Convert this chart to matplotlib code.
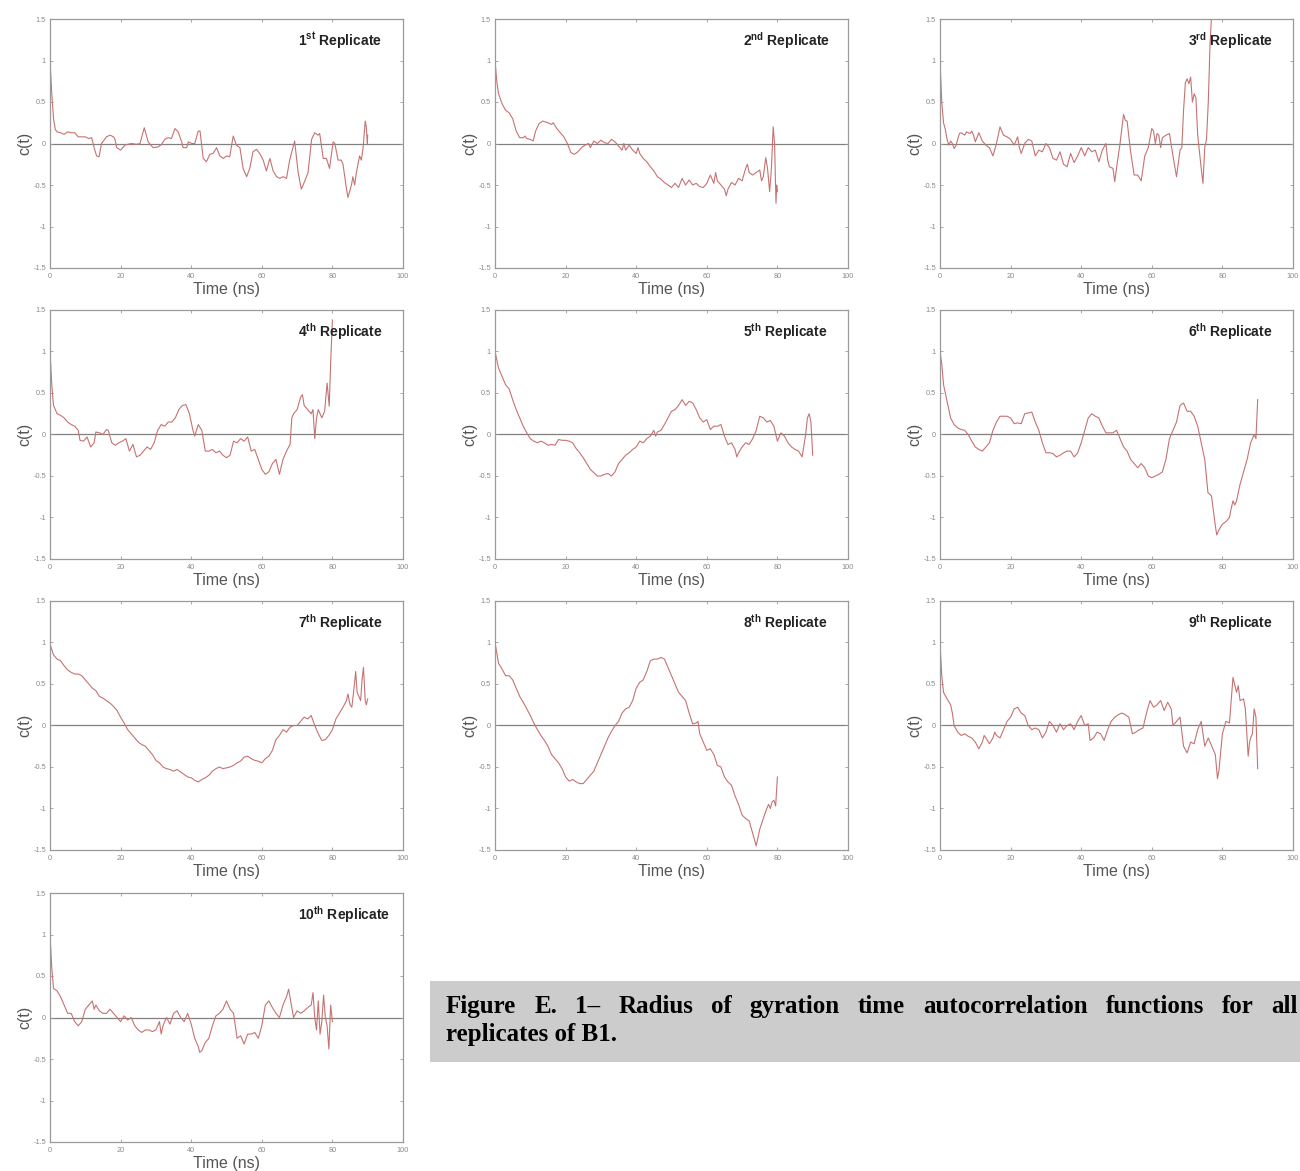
import matplotlib
matplotlib.use("Agg")
import matplotlib.pyplot as plt
from matplotlib.patches import Rectangle

plt.rcParams['font.family'] = ['Liberation Sans', 'DejaVu Sans']
plt.rcParams['axes.unicode_minus'] = False
plt.rcParams['mathtext.fontset'] = 'custom'
plt.rcParams['mathtext.rm'] = 'Liberation Sans'
plt.rcParams['mathtext.bf'] = 'Liberation Sans:bold'

# Radius-of-gyration autocorrelation c(t) per replicate: (time in ns, c(t))
rep1 = [(0, 1.0), (0.5, 0.6), (1, 0.3), (1.5, 0.17), (2, 0.14), (3, 0.13), (4, 0.11), (5, 0.14),
        (6, 0.13), (7, 0.13), (8, 0.08), (9, 0.08), (10, 0.08), (11, 0.06), (11.8, 0.07), (12.5, -0.05),
        (13.2, -0.15), (13.9, -0.16), (14.6, 0.0), (15.3, 0.04), (16, 0.08), (17, 0.1), (18, 0.08),
        (18.4, 0.05), (18.9, -0.05), (20, -0.08), (21.2, -0.02), (22, -0.01), (23.1, 0.0), (24.5, -0.01),
        (25.5, 0.0), (26.7, 0.19), (27.8, 0.02), (29.2, -0.05), (30.7, -0.04), (31.6, -0.01), (32.5, 0.05),
        (33.5, 0.07), (34.4, 0.06), (35.4, 0.18), (36.3, 0.14), (37.3, 0.02), (37.7, -0.05), (38.7, -0.05),
        (39.2, 0.02), (40.1, 0.0), (41, 0.0), (42, 0.15), (42.5, 0.15), (43.4, -0.18), (44.3, -0.22),
        (45.3, -0.13), (46.2, -0.12), (47.2, -0.05), (48.1, -0.15), (49.1, -0.18), (50, -0.15),
        (50.9, -0.16), (51.9, 0.09), (52.8, -0.02), (53.8, -0.05), (54.7, -0.3), (55.7, -0.4),
        (56.6, -0.3), (57.5, -0.1), (58.5, -0.07), (59.4, -0.12), (60.4, -0.2), (61.3, -0.33),
        (62.3, -0.18), (63.2, -0.33), (64.2, -0.4), (65.1, -0.42), (66, -0.4), (67, -0.42), (67.9, -0.2),
        (69.3, 0.03), (70.3, -0.35), (71.2, -0.55), (72.2, -0.45), (73.1, -0.35), (74.1, 0.05), (75, 0.13),
        (75.9, 0.1), (76.4, 0.12), (77.4, -0.18), (78.3, -0.18), (79.2, -0.3), (80.2, 0.02), (80.7, 0.0),
        (81.6, -0.2), (82.5, -0.2), (83, -0.25), (84, -0.55), (84.4, -0.65), (85.4, -0.5), (85.8, -0.4),
        (86.3, -0.5), (86.8, -0.35), (87.7, -0.15), (88.2, -0.2), (88.7, -0.05), (89.3, 0.27), (89.6, 0.2),
        (89.9, 0.0), (90, 0.1)]

rep2 = [(0, 1.0), (0.5, 0.75), (1, 0.6), (2, 0.48), (3, 0.4), (4, 0.37), (5, 0.3), (6, 0.15), (7, 0.07),
        (8, 0.07), (8.5, 0.09), (9, 0.06), (10, 0.05), (10.8, 0.03), (11.5, 0.15), (12.5, 0.24), (13.5, 0.27),
        (15, 0.25), (16, 0.23), (16.5, 0.25), (17.5, 0.18), (18.5, 0.13), (19.5, 0.08), (20.5, 0.0),
        (21.5, -0.11), (22.5, -0.13), (23.5, -0.1), (24.5, -0.05), (25.5, -0.02), (26.5, 0.0), (27, -0.05),
        (28, 0.03), (29, 0.0), (30, 0.04), (31, 0.01), (32, 0.0), (33, 0.05), (34, 0.02), (35, -0.03),
        (36, -0.08), (36.5, 0.0), (37, -0.08), (38, -0.02), (39, -0.08), (40, -0.12), (40.5, -0.05),
        (41, -0.12), (42, -0.18), (43, -0.22), (44, -0.28), (45, -0.33), (46, -0.4), (47, -0.43),
        (48, -0.47), (49, -0.5), (50, -0.53), (51, -0.48), (52, -0.53), (53, -0.42), (54, -0.5),
        (55, -0.44), (56, -0.5), (57, -0.48), (58, -0.52), (59, -0.53), (60, -0.48), (61, -0.38),
        (62, -0.48), (62.5, -0.35), (63, -0.45), (64, -0.5), (65, -0.55), (65.5, -0.63), (66, -0.55),
        (67, -0.47), (68, -0.5), (69, -0.42), (70, -0.45), (71, -0.3), (71.5, -0.25), (72, -0.35),
        (73, -0.38), (74, -0.35), (75, -0.32), (75.5, -0.45), (76, -0.4), (76.7, -0.17), (77.2, -0.3),
        (77.8, -0.58), (78.3, -0.3), (78.8, 0.2), (79.2, 0.0), (79.6, -0.72), (79.8, -0.5), (80, -0.58)]

rep3 = [(0, 1.0), (0.5, 0.5), (1, 0.25), (1.5, 0.17), (2, 0.05), (2.5, -0.02), (3, 0.03), (3.5, 0.0),
        (4, -0.06), (4.5, -0.03), (5, 0.05), (5.5, 0.12), (6, 0.13), (7, 0.1), (7.5, 0.14), (8.5, 0.12),
        (9, 0.15), (9.5, 0.1), (10, 0.02), (11, 0.13), (12, 0.03), (13, -0.02), (14, -0.05), (15, -0.15),
        (16, 0.0), (17, 0.2), (18, 0.1), (19, 0.08), (20, 0.05), (21, -0.02), (22, 0.08), (22.5, -0.05),
        (23, -0.12), (24, 0.0), (25, 0.05), (26, 0.03), (27, -0.15), (28, -0.08), (29, -0.1), (30, 0.0),
        (31, -0.05), (32, -0.18), (33, -0.2), (34, -0.1), (35, -0.25), (36, -0.28), (37, -0.12),
        (38, -0.23), (39, -0.15), (40, -0.05), (41, -0.15), (42, -0.05), (43, -0.1), (44, -0.08),
        (45, -0.22), (46, -0.08), (47, 0.0), (47.5, -0.2), (48, -0.28), (49, -0.3), (49.5, -0.46),
        (50, -0.3), (51, 0.0), (52, 0.35), (52.5, 0.28), (53, 0.27), (54, -0.1), (55, -0.38), (56, -0.38),
        (57, -0.45), (58, -0.15), (59, -0.05), (60, 0.18), (60.5, 0.15), (61, 0.0), (61.5, 0.12),
        (62, 0.1), (62.5, -0.05), (63, 0.07), (64, 0.1), (65, 0.12), (66, -0.15), (67, -0.4), (68, -0.08),
        (68.5, -0.05), (69, 0.4), (69.5, 0.73), (70, 0.78), (70.5, 0.72), (71, 0.8), (71.5, 0.5),
        (72, 0.6), (72.5, 0.55), (73, 0.1), (74, -0.3), (74.5, -0.48), (75, -0.05), (75.5, 0.05),
        (76, 0.5), (76.5, 1.2), (77, 1.6)]

rep4 = [(0, 1.0), (0.5, 0.6), (1, 0.35), (2, 0.25), (3, 0.23), (4, 0.2), (5, 0.15), (6, 0.12), (7, 0.1),
        (8, 0.05), (8.5, -0.07), (9.5, -0.08), (10.5, -0.03), (11.5, -0.15), (12.5, -0.1), (13, 0.03),
        (14, 0.02), (15, 0.0), (16, 0.06), (16.5, 0.05), (17.5, -0.1), (18.5, -0.13), (19.5, -0.1),
        (20.5, -0.08), (21.5, -0.05), (22.5, -0.2), (23.5, -0.12), (24.5, -0.27), (25.5, -0.25),
        (26.5, -0.2), (27.5, -0.15), (28.5, -0.18), (29.5, -0.1), (30.5, 0.05), (31.5, 0.12), (32.5, 0.1),
        (33.5, 0.15), (34.5, 0.15), (35.5, 0.2), (36.5, 0.3), (37.5, 0.35), (38.5, 0.36), (39.5, 0.25),
        (40.5, 0.05), (41, -0.02), (42, 0.12), (43, 0.05), (44, -0.2), (45, -0.2), (46, -0.18),
        (47, -0.22), (48, -0.2), (49, -0.25), (50, -0.28), (51, -0.25), (52, -0.08), (53, -0.1),
        (54, -0.05), (55, -0.08), (56, -0.03), (57, -0.2), (58, -0.18), (59, -0.3), (60, -0.42),
        (61, -0.48), (62, -0.45), (63, -0.35), (64, -0.3), (65, -0.48), (66, -0.3), (67, -0.2),
        (68, -0.12), (68.5, 0.2), (69, 0.25), (70, 0.3), (71, 0.45), (71.5, 0.48), (72, 0.35), (73, 0.3),
        (74, 0.25), (74.5, 0.3), (75, -0.05), (75.5, 0.2), (76, 0.3), (77, 0.2), (77.8, 0.28),
        (78.5, 0.62), (79.1, 0.34), (79.5, 0.86), (80, 1.38)]

rep5 = [(0, 1.0), (1, 0.8), (2, 0.7), (3, 0.6), (4, 0.55), (5, 0.42), (6, 0.3), (7, 0.2), (8, 0.1),
        (9, 0.02), (10, -0.05), (11, -0.08), (12, -0.1), (13, -0.08), (14, -0.1), (15, -0.13),
        (16, -0.12), (17, -0.13), (18, -0.06), (19, -0.07), (20, -0.07), (21, -0.08), (22, -0.1),
        (23, -0.17), (24, -0.22), (25, -0.28), (26, -0.35), (27, -0.42), (28, -0.46), (29, -0.5),
        (30, -0.5), (31, -0.48), (32, -0.47), (33, -0.5), (34, -0.45), (35, -0.35), (36, -0.3),
        (37, -0.25), (38, -0.22), (39, -0.18), (40, -0.15), (41, -0.08), (42, -0.1), (43, -0.05),
        (44, -0.02), (45, 0.05), (45.5, -0.02), (46, 0.03), (47, 0.05), (48, 0.12), (49, 0.2),
        (50, 0.28), (51, 0.3), (52, 0.35), (53, 0.42), (54, 0.35), (55, 0.4), (56, 0.38), (57, 0.3),
        (58, 0.2), (59, 0.15), (60, 0.18), (61, 0.06), (62, 0.1), (63, 0.1), (64, 0.12), (65, -0.02),
        (66, -0.12), (67, -0.1), (68, -0.18), (68.5, -0.27), (69, -0.22), (70, -0.15), (71, -0.1),
        (72, -0.12), (73, -0.05), (74, 0.05), (75, 0.22), (76, 0.2), (77, 0.15), (78, 0.17), (79, 0.1),
        (80, -0.08), (81, 0.02), (82, -0.02), (83, -0.1), (84, -0.15), (85, -0.18), (86, -0.2),
        (87, -0.27), (88, 0.0), (88.5, 0.2), (89, 0.25), (89.5, 0.15), (90, -0.25)]

rep6 = [(0, 1.0), (0.5, 0.85), (1, 0.6), (2, 0.4), (3, 0.2), (4, 0.12), (5, 0.08), (6, 0.06), (7, 0.05),
        (8, 0.0), (9, -0.08), (10, -0.15), (11, -0.18), (12, -0.2), (13, -0.15), (14, -0.1), (15, 0.05),
        (16, 0.15), (17, 0.22), (18, 0.22), (19, 0.22), (20, 0.2), (21, 0.13), (22, 0.14), (23, 0.13),
        (24, 0.25), (25, 0.26), (26, 0.27), (27, 0.15), (28, 0.05), (29, -0.1), (30, -0.22), (31, -0.22),
        (32, -0.23), (33, -0.27), (34, -0.25), (35, -0.22), (36, -0.2), (37, -0.2), (38, -0.27),
        (39, -0.22), (40, -0.1), (41, 0.05), (42, 0.2), (43, 0.25), (44, 0.22), (45, 0.2), (46, 0.1),
        (47, 0.02), (48, 0.02), (49, 0.02), (50, 0.05), (51, -0.05), (52, -0.15), (53, -0.2), (54, -0.3),
        (55, -0.35), (56, -0.4), (57, -0.35), (58, -0.4), (59, -0.5), (60, -0.52), (61, -0.5),
        (62, -0.48), (63, -0.45), (64, -0.3), (65, -0.05), (66, 0.05), (67, 0.15), (68, 0.35),
        (69, 0.38), (70, 0.28), (71, 0.28), (72, 0.22), (73, 0.1), (74, -0.1), (75, -0.3), (75.9, -0.7),
        (76.9, -0.74), (78, -1.1), (78.4, -1.21), (79, -1.15), (80, -1.08), (81, -1.05), (82, -1.0),
        (82.5, -0.89), (83, -0.8), (83.5, -0.85), (84, -0.8), (85, -0.6), (86, -0.45), (87, -0.3),
        (88, -0.1), (88.5, -0.05), (89, 0.0), (89.5, -0.05), (90, 0.42)]

rep7 = [(0, 0.98), (1, 0.85), (2, 0.8), (3, 0.78), (4, 0.72), (5, 0.67), (6, 0.64), (7, 0.62), (8, 0.62),
        (9, 0.6), (10, 0.55), (11, 0.5), (12, 0.45), (13, 0.42), (14, 0.35), (15, 0.33), (16, 0.3),
        (17, 0.27), (18, 0.23), (19, 0.18), (20, 0.1), (21, 0.03), (22, -0.05), (23, -0.1), (24, -0.15),
        (25, -0.2), (26, -0.23), (27, -0.25), (28, -0.3), (29, -0.35), (30, -0.42), (31, -0.45),
        (32, -0.5), (33, -0.52), (34, -0.53), (35, -0.55), (36, -0.53), (37, -0.56), (38, -0.59),
        (39, -0.62), (40, -0.63), (41, -0.66), (42, -0.68), (43, -0.65), (44, -0.63), (45, -0.6),
        (46, -0.55), (47, -0.52), (48, -0.5), (49, -0.52), (50, -0.51), (51, -0.5), (52, -0.48),
        (53, -0.45), (54, -0.43), (55, -0.38), (56, -0.37), (57, -0.4), (58, -0.42), (59, -0.43),
        (60, -0.45), (61, -0.4), (62, -0.37), (63, -0.3), (64, -0.17), (65, -0.12), (66, -0.05),
        (67, -0.08), (68, -0.02), (69, 0.0), (70, 0.0), (71, 0.05), (72, 0.1), (73, 0.08), (74, 0.12),
        (75, 0.0), (76, -0.1), (77, -0.18), (78, -0.17), (79, -0.12), (80, -0.05), (81, 0.08), (82, 0.15),
        (83, 0.22), (84, 0.3), (84.4, 0.38), (85, 0.25), (85.5, 0.22), (86, 0.4), (86.6, 0.65), (87, 0.4),
        (88, 0.3), (88.4, 0.55), (88.8, 0.7), (89.3, 0.3), (89.6, 0.25), (90, 0.32)]

rep8 = [(0, 1.0), (1, 0.75), (2, 0.68), (3, 0.6), (4, 0.6), (5, 0.55), (6, 0.45), (7, 0.35), (8, 0.28),
        (9, 0.2), (10, 0.12), (11, 0.03), (12, -0.05), (13, -0.12), (14, -0.18), (15, -0.25), (16, -0.35),
        (17, -0.4), (18, -0.45), (19, -0.52), (20, -0.62), (21, -0.67), (22, -0.65), (23, -0.68),
        (24, -0.7), (25, -0.7), (26, -0.65), (27, -0.6), (28, -0.55), (29, -0.45), (30, -0.35),
        (31, -0.25), (32, -0.15), (33, -0.07), (34, 0.0), (35, 0.05), (36, 0.15), (37, 0.2), (38, 0.22),
        (39, 0.3), (40, 0.45), (41, 0.52), (42, 0.55), (43, 0.65), (44, 0.78), (45, 0.8), (46, 0.8),
        (47, 0.82), (48, 0.8), (49, 0.7), (50, 0.6), (51, 0.5), (52, 0.4), (53, 0.35), (54, 0.3),
        (55, 0.15), (56, 0.02), (57, 0.03), (57.5, 0.05), (58, -0.1), (59, -0.2), (60, -0.3), (61, -0.28),
        (62, -0.35), (63, -0.48), (64, -0.5), (65, -0.62), (66, -0.68), (67, -0.72), (68, -0.85),
        (69, -0.95), (70, -1.08), (71, -1.12), (72, -1.15), (73, -1.3), (74, -1.45), (75, -1.25),
        (76, -1.12), (77, -1.0), (77.5, -0.95), (78, -1.0), (78.5, -0.92), (79, -0.9), (79.5, -0.97),
        (80, -0.62)]

rep9 = [(0, 1.0), (0.5, 0.6), (1, 0.4), (2, 0.32), (3, 0.25), (3.5, 0.15), (4, 0.0), (5, -0.08),
        (6, -0.12), (7, -0.1), (8, -0.13), (9, -0.15), (10, -0.2), (11, -0.28), (12, -0.2), (12.5, -0.12),
        (13, -0.15), (14, -0.22), (15, -0.15), (15.5, -0.08), (16, -0.12), (17, -0.15), (18, -0.05),
        (19, 0.05), (20, 0.1), (21, 0.2), (22, 0.22), (23, 0.15), (24, 0.12), (25, 0.0), (26, -0.05),
        (27, -0.03), (28, -0.05), (29, -0.15), (30, -0.08), (31, 0.05), (32, 0.0), (33, -0.08),
        (34, 0.02), (35, -0.05), (36, 0.0), (37, 0.02), (38, -0.05), (39, 0.05), (40, 0.12), (41, 0.0),
        (42, 0.02), (42.5, -0.18), (43.5, -0.15), (44.5, -0.08), (45.5, -0.1), (46.5, -0.18),
        (47.5, -0.05), (48.5, 0.05), (49.5, 0.1), (50.5, 0.13), (51.5, 0.15), (52.5, 0.13), (53.5, 0.1),
        (54.5, -0.1), (55.5, -0.08), (56.5, -0.05), (57.5, -0.03), (58.5, 0.15), (59.5, 0.3), (60.5, 0.22),
        (61.5, 0.25), (62.5, 0.3), (63.5, 0.18), (64.5, 0.28), (65.5, 0.2), (66, 0.0), (67, 0.05),
        (68, 0.1), (69, -0.25), (70, -0.33), (71, -0.2), (72, -0.22), (73, -0.05), (74, 0.05),
        (75, -0.25), (76, -0.15), (77, -0.25), (78, -0.35), (78.6, -0.64), (79, -0.55), (80, -0.1),
        (81, 0.05), (82, 0.03), (83, 0.58), (84, 0.4), (84.5, 0.48), (85, 0.3), (86, 0.32), (86.5, 0.2),
        (87.3, -0.37), (87.7, -0.2), (88, -0.15), (88.5, -0.1), (89, 0.2), (89.5, 0.1), (90, -0.52)]

rep10 = [(0, 1.0), (0.5, 0.6), (1, 0.35), (2, 0.32), (3, 0.25), (4, 0.15), (5, 0.05), (6, 0.05),
         (7, -0.05), (8, -0.1), (9, -0.05), (10, 0.1), (11, 0.15), (12, 0.2), (12.5, 0.1), (13, 0.15),
         (14, 0.08), (15, 0.05), (16, 0.05), (17, 0.1), (18, 0.05), (19, 0.0), (20, -0.05), (21, 0.02),
         (22, -0.03), (23, 0.0), (24, -0.1), (25, -0.15), (26, -0.18), (27, -0.15), (28, -0.15),
         (29, -0.17), (30, -0.15), (31, -0.05), (31.5, -0.2), (32, -0.1), (33, 0.0), (34, -0.08),
         (35, 0.05), (36, 0.08), (37, 0.0), (38, -0.05), (39, 0.05), (40, -0.08), (41, -0.25), (42, -0.35),
         (42.4, -0.42), (43, -0.4), (44, -0.3), (45, -0.25), (46, -0.1), (47, 0.02), (48, 0.05), (49, 0.1),
         (50, 0.2), (51, 0.1), (52, 0.05), (53, -0.25), (54, -0.22), (55, -0.32), (56, -0.2), (57, -0.2),
         (58, -0.18), (59, -0.25), (60, -0.1), (61, 0.15), (62, 0.2), (63, 0.12), (64, 0.05), (65, 0.0),
         (66, 0.15), (67, 0.25), (67.6, 0.34), (69, 0.0), (70, 0.08), (71, 0.05), (72, 0.08), (73, 0.12),
         (74, 0.15), (74.5, 0.3), (75, 0.0), (75.5, -0.15), (76, 0.2), (76.5, -0.2), (77, -0.05),
         (77.5, 0.27), (78, 0.0), (78.5, -0.1), (79, -0.38), (79.5, 0.15), (80, -0.05)]

series = [rep1, rep2, rep3, rep4, rep5, rep6, rep7, rep8, rep9, rep10]
ordinals = ["st", "nd", "rd", "th", "th", "th", "th", "th", "th", "th"]
x_ticks = [0, 20, 40, 60, 80, 100]
y_ticks = [-1.5, -1, -0.5, 0, 0.5, 1, 1.5]
y_ticklabels = ["-1.5", "-1", "-0.5", "0", "0.5", "1", "1.5"]

caption_line1 = "Figure E. 1\u2013 Radius of gyration time autocorrelation functions for all"
caption_line2 = "replicates of B1."

W, H = 1300, 1171
fig = plt.figure(figsize=(W / 100, H / 100), dpi=100)
fig.patch.set_facecolor("white")

col_left = [50, 495, 940]
row_top = [19, 310, 601, 893]
ax_w, ax_h = 353, 249

line_color = "#c77272"
spine_color = "#9a9a9a"
tick_color = "#8a8a8a"
label_color = "#555555"

for i, data in enumerate(series):
    r, c = divmod(i, 3)
    left = col_left[c] / W
    bottom = 1 - (row_top[r] + ax_h) / H
    ax = fig.add_axes([left, bottom, ax_w / W, ax_h / H])
    t_vals = [p[0] for p in data]
    c_vals = [p[1] for p in data]
    ax.axhline(0, color="#808080", lw=0.9, zorder=1)
    ax.plot(t_vals, c_vals, color=line_color, lw=0.8, zorder=2)
    ax.set_xlim(0, 100)
    ax.set_ylim(-1.5, 1.5)
    ax.set_xticks(x_ticks)
    ax.set_yticks(y_ticks)
    ax.set_yticklabels(y_ticklabels)
    ax.tick_params(direction="in", length=2.5, width=0.6, colors=spine_color,
                   labelcolor=tick_color, labelsize=5.3, top=True, right=True)
    ax.tick_params(axis="x", pad=3.5)
    ax.tick_params(axis="y", pad=3)
    for s in ax.spines.values():
        s.set_color(spine_color)
        s.set_linewidth(0.9)
    ax.set_xlabel("Time (ns)", fontsize=11.5, color=label_color)
    ax.xaxis.set_label_coords(0.5, -0.056)
    ax.set_ylabel("c(t)", fontsize=11.5, color=label_color)
    ax.yaxis.set_label_coords(-0.05, 0.5)
    ax.text(0.703, 0.893, r"$\mathbf{%d^{%s}}$ Replicate" % (i + 1, ordinals[i]),
            transform=ax.transAxes, ha="left", va="baseline",
            fontsize=10, fontweight="bold", color="#222222")

# Caption panel
fig.add_artist(Rectangle((430 / W, 1 - 1062 / H), (W - 430) / W, 81 / H,
                         transform=fig.transFigure, facecolor="#cccccc",
                         edgecolor="none", zorder=0))

cap_font = dict(family=["Liberation Serif", "DejaVu Serif"], fontweight="bold",
                fontsize=18, color="black", va="baseline", ha="left")
fig.canvas.draw()
renderer = fig.canvas.get_renderer()

# First caption line is justified across the panel width
words = caption_line1.split()
word_texts = [fig.text(0, 1 - 1013 / H, w, **cap_font) for w in words]
widths = [t.get_window_extent(renderer).width for t in word_texts]
x_start, x_end = 446, 1298
gap = (x_end - x_start - sum(widths)) / (len(words) - 1)
x = x_start
for t, w in zip(word_texts, widths):
    t.set_x(x / W)
    x += w + gap

fig.text(x_start / W, 1 - 1041 / H, caption_line2, **cap_font)

fig.savefig("out.png", dpi=100)
